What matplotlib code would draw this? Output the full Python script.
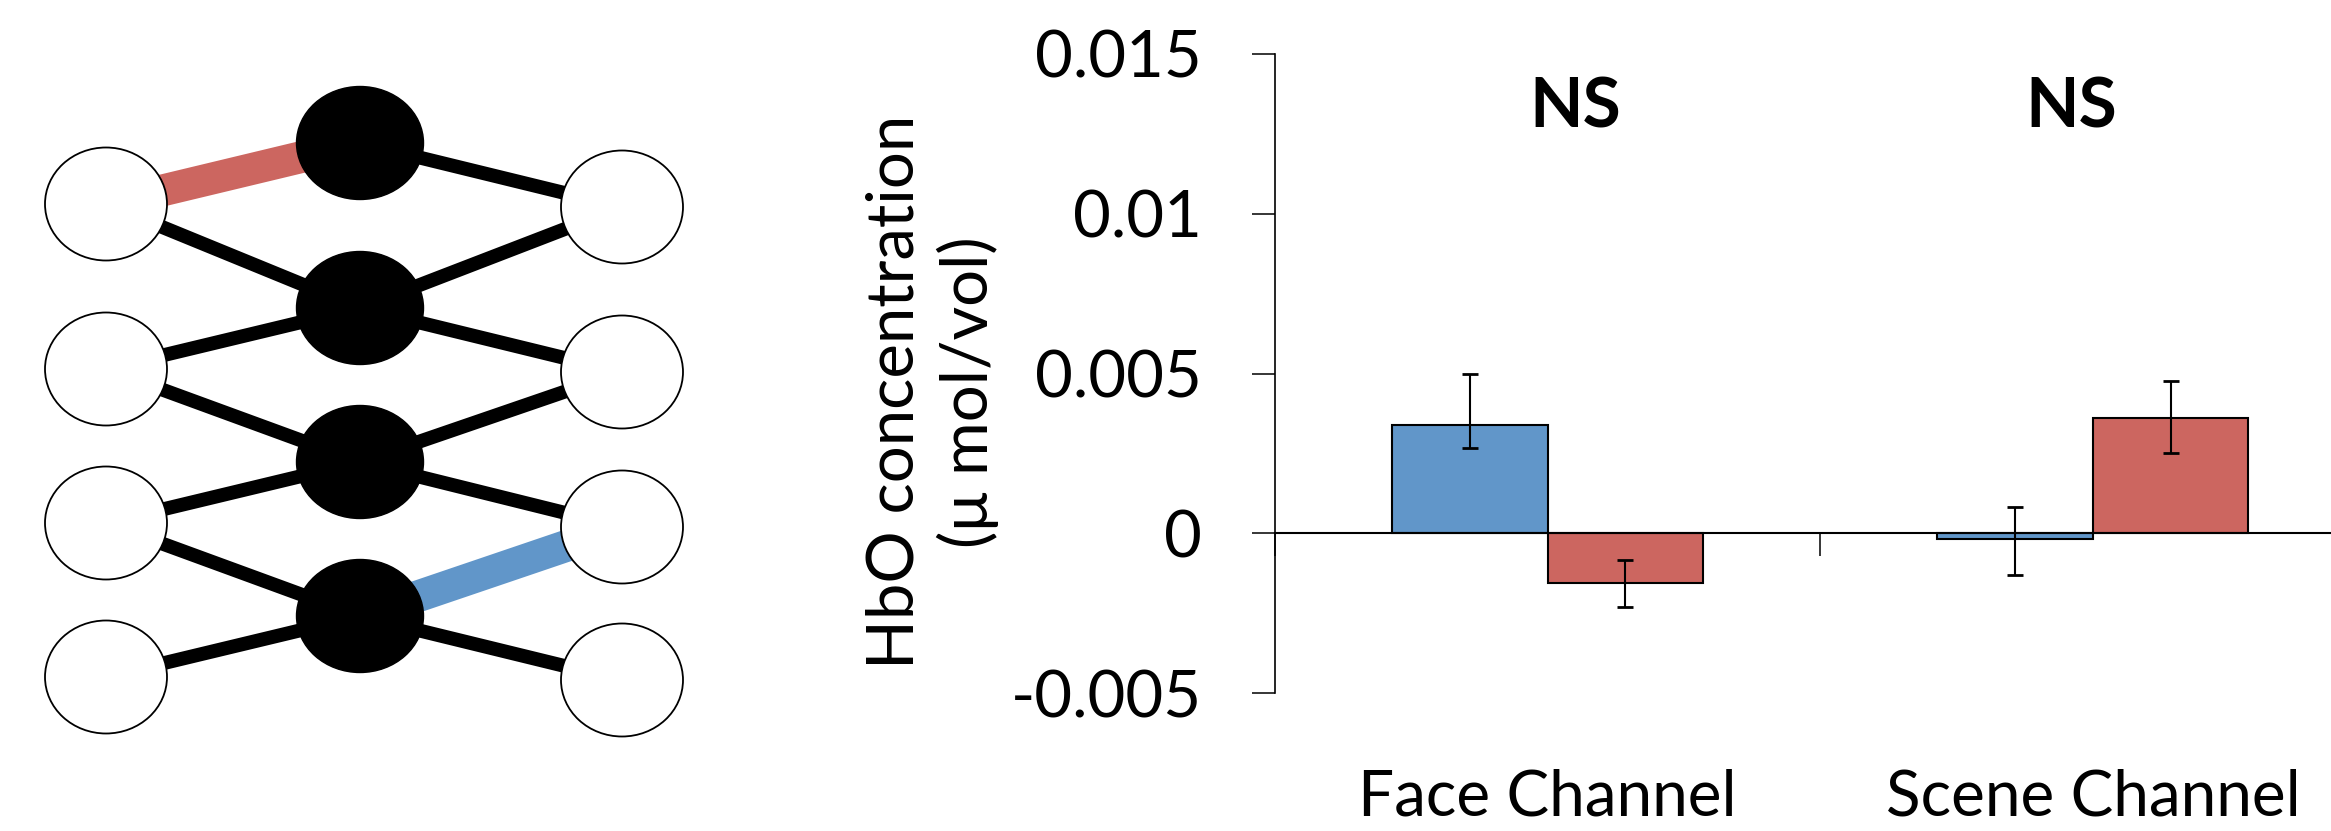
import matplotlib
matplotlib.use('Agg')
import matplotlib.pyplot as plt
from matplotlib.patches import Ellipse
import numpy as np

plt.rcParams['font.family'] = ['Lato', 'DejaVu Sans']

# bar chart data
categories = ['Face Channel', 'Scene Channel']
blue_means = [0.0034, -0.00018]
blue_err_low = [0.00073, 0.00113]
blue_err_high = [0.00157, 0.00101]
red_means = [-0.00157, 0.00362]
red_err_low = [0.00075, 0.00111]
red_err_high = [0.00073, 0.00113]
sig_labels = ['NS', 'NS']
y_ticks = [-0.005, 0, 0.005, 0.01, 0.015]
y_tick_labels = ['-0.005', '0', '0.005', '0.01', '0.015']

# diagram: three columns of nodes (pixel rows)
left_x, mid_x, right_x = 106, 360, 622
left_y = [204, 369, 523, 677]
mid_y = [143, 308, 462, 616]
right_y = [207, 372, 527, 680]
# (from column, row, to column, row, colour)
edges = [('L', 0, 'M', 0, 'red'), ('M', 0, 'R', 0, 'k'),
         ('L', 0, 'M', 1, 'k'), ('M', 1, 'R', 0, 'k'),
         ('L', 1, 'M', 1, 'k'), ('M', 1, 'R', 1, 'k'),
         ('L', 1, 'M', 2, 'k'), ('M', 2, 'R', 1, 'k'),
         ('L', 2, 'M', 2, 'k'), ('M', 2, 'R', 2, 'k'),
         ('L', 2, 'M', 3, 'k'), ('M', 3, 'R', 2, 'blue'),
         ('L', 3, 'M', 3, 'k'), ('M', 3, 'R', 3, 'k')]

blue = '#6196C9'
red = '#CC6660'

fig = plt.figure(figsize=(23.31, 8.31), dpi=100)

# ---- network diagram ----
ax0 = fig.add_axes([0, 0, 720 / 2331, 1])
ax0.set_xlim(0, 720)
ax0.set_ylim(831, 0)
ax0.axis('off')

cols = {'L': (left_x, left_y), 'M': (mid_x, mid_y), 'R': (right_x, right_y)}
for c1, r1, c2, r2, col in edges:
    x1, ys1 = cols[c1]
    x2, ys2 = cols[c2]
    if col == 'k':
        ax0.plot([x1, x2], [ys1[r1], ys2[r2]], color='black', lw=10, zorder=1, solid_capstyle='butt')
    else:
        c = red if col == 'red' else blue
        ax0.plot([x1, x2], [ys1[r1], ys2[r2]], color=c, lw=23, zorder=1, solid_capstyle='butt')

for y in left_y:
    ax0.add_patch(Ellipse((left_x, y), 122, 113, facecolor='white', edgecolor='black', lw=1.3, zorder=2))
for y in right_y:
    ax0.add_patch(Ellipse((right_x, y), 122, 113, facecolor='white', edgecolor='black', lw=1.3, zorder=2))
for y in mid_y:
    ax0.add_patch(Ellipse((mid_x, y), 127, 113, facecolor='black', edgecolor='black', lw=1, zorder=2))

# ---- bar chart ----
ax = fig.add_axes([0.54698, 0.16606, 0.46783, 0.76896])
x = np.arange(len(categories))
w = 0.285
ekw = dict(elinewidth=1.5, capthick=2, ecolor='black')
ax.bar(x - w / 2, blue_means, w, color=blue, edgecolor='black', linewidth=1.5,
       yerr=[blue_err_low, blue_err_high], capsize=6, error_kw=ekw)
ax.bar(x + w / 2, red_means, w, color=red, edgecolor='black', linewidth=1.5,
       yerr=[red_err_low, red_err_high], capsize=6, error_kw=ekw)

ax.set_xlim(-0.5, 1.5)
ax.set_ylim(-0.005, 0.015)
ax.spines['top'].set_visible(False)
ax.spines['right'].set_visible(False)
ax.spines['bottom'].set_position(('data', 0))
ax.spines['bottom'].set_linewidth(1.5)
ax.spines['left'].set_linewidth(1.2)

ax.set_yticks(y_ticks, y_tick_labels, fontsize=47)
ax.tick_params(axis='y', direction='out', length=16.5, width=1.1, pad=36)
ax.set_xticks([-0.5, 0.5, 1.5], ['', '', ''])
ax.tick_params(axis='x', direction='out', length=16.5, width=1.1)

for i, cat in enumerate(categories):
    ax.text(x[i], -0.00883, cat, ha='center', va='baseline', fontsize=46, clip_on=False)

ns_shift = [0.05, -0.04]
for i, s in enumerate(sig_labels):
    ax.text(x[i] + ns_shift[i], 0.0133, s, ha='center', va='center', fontsize=50, fontweight='bold')

fig.text(0.40, 0.528, 'HbO concentration\n(μ mol/vol)', rotation=90, ha='center', va='center',
         multialignment='center', fontsize=47, linespacing=1.25)

fig.savefig('out.png', dpi=100)
